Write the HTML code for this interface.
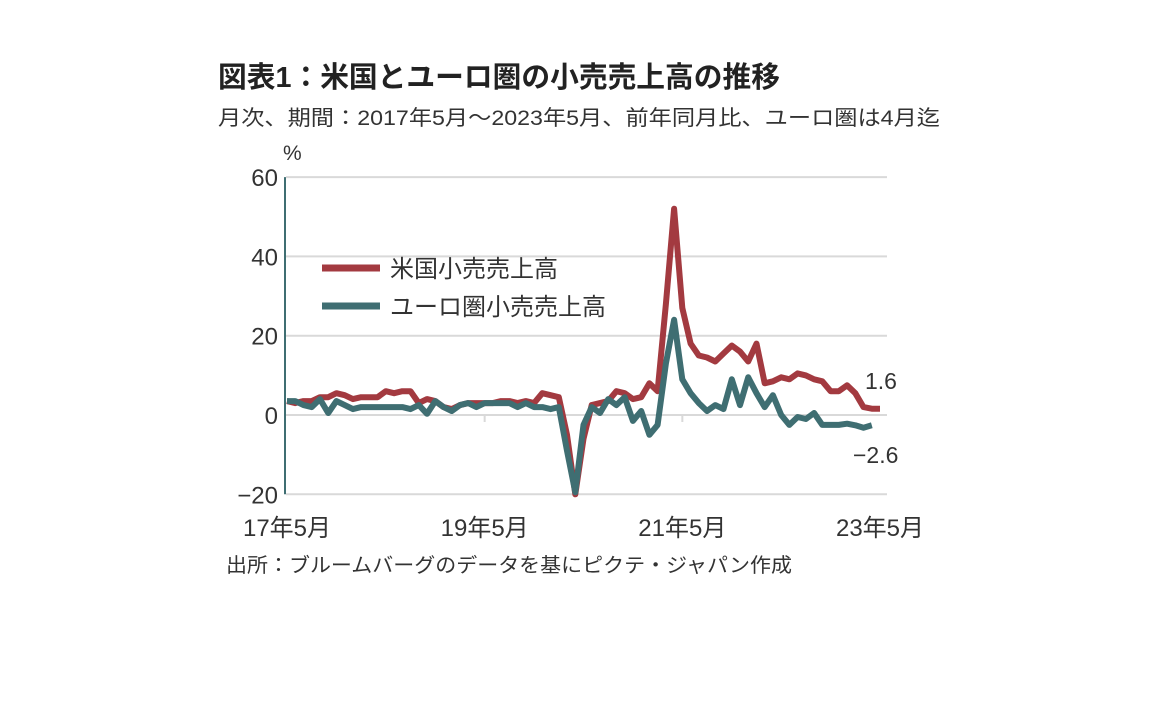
<!DOCTYPE html>
<html><head><meta charset="utf-8"><style>
html,body{margin:0;padding:0;background:#fff;}
svg{display:block;font-family:"Liberation Sans","Noto Sans CJK JP",sans-serif;}
</style></head><body>
<svg id="chart" width="1152" height="720" viewBox="0 0 1152 720">
<text x="218" y="87" font-size="29" font-weight="bold" fill="#222" textLength="562" lengthAdjust="spacingAndGlyphs">図表1：米国とユーロ圏の小売売上高の推移</text>
<text x="218" y="125" font-size="21" fill="#333" textLength="722" lengthAdjust="spacingAndGlyphs">月次、期間：2017年5月～2023年5月、前年同月比、ユーロ圏は4月迄</text>
<text x="283" y="160" font-size="21" fill="#333">%</text>
<g id="grid"></g>
<g id="series"></g>
<g id="legend">
<line x1="322" y1="268" x2="380" y2="268" stroke="#a33a40" stroke-width="7"/>
<text x="390" y="277" font-size="24" fill="#333">米国小売売上高</text>
<line x1="322" y1="306" x2="380" y2="306" stroke="#3f6e72" stroke-width="7"/>
<text x="390" y="315" font-size="24" fill="#333">ユーロ圏小売売上高</text>
</g>
<text x="865" y="389" font-size="23" fill="#333">1.6</text>
<text x="853" y="463" font-size="23" fill="#333">−2.6</text>
<text x="226" y="572" font-size="20" fill="#333" textLength="566" lengthAdjust="spacingAndGlyphs">出所：ブルームバーグのデータを基にピクテ・ジャパン作成</text>
</svg>
<script>
const yTicks = [60, 40, 20, 0, -20];
const xTickLabels = ["17年5月", "19年5月", "21年5月", "23年5月"];
const xTickIdx = [0, 24, 48, 72];
const usValues = [3.5,3,3.5,3.5,4.5,4.5,5.5,5,
 4,4.5,4.5,4.5,6,5.5,6,6,3,4,3.5,2,
 1.5,2.5,3,3,3,3,3.5,3.5,3,3.5,3,5.5,
 5,4.5,-5,-20,-6,2.5,3,3.5,6,5.5,4,4.5,
 8,6,28,52,27,18,15,14.5,13.5,15.5,17.5,16,
 13.5,18,8,8.5,9.5,9,10.5,10,9,8.5,6,6,
 7.5,5.5,2,1.6,1.6];
const euValues = [3.5,3.5,2.5,2,4,0.5,3.5,2.5,
 1.5,2,2,2,2,2,2,1.5,2.5,0.3,3.5,2,
 1,2.5,3,2,3,3,3,3,2,3,2,2,
 1.5,2,-9,-19.5,-2.5,2,0.5,4,2.5,4.5,-1.5,1,
 -5,-2.5,13,24,9,5.5,3,1,2.5,1.5,9,2.5,
 9.5,5.5,2,5,0,-2.5,-0.5,-1,0.5,-2.5,-2.5,-2.5,
 -2.2,-2.6,-3.2,-2.6];
const NS='http://www.w3.org/2000/svg';
const x0=287,x1=880,nM=72,yZero=415,yPer=79.3/20;
const xs=i=>x0+(x1-x0)*i/nM;
const ys=v=>yZero-v*yPer;
const grid=document.getElementById('grid');
yTicks.forEach(t=>{
 const l=document.createElementNS(NS,'line');
 l.setAttribute('x1',286);l.setAttribute('x2',887);l.setAttribute('y1',ys(t));l.setAttribute('y2',ys(t));
 l.setAttribute('stroke','#d9d9d9');l.setAttribute('stroke-width','2');
 
 
 grid.appendChild(l);
 const tx=document.createElementNS(NS,'text');
 tx.setAttribute('x',278);tx.setAttribute('y',ys(t)+9);tx.setAttribute('text-anchor','end');
 tx.setAttribute('font-size','24');tx.setAttribute('fill','#333');
 tx.textContent=t<0?'−'+Math.abs(t):String(t);
 
 
 grid.appendChild(tx);
});
const ax=document.createElementNS(NS,'line');
ax.setAttribute('x1',285);ax.setAttribute('x2',285);ax.setAttribute('y1',ys(60));ax.setAttribute('y2',ys(-20));
ax.setAttribute('stroke','#3f6e72');ax.setAttribute('stroke-width','2');


grid.appendChild(ax);
xTickIdx.forEach((m,k)=>{
 if(k>0&&k<3){const tk=document.createElementNS(NS,'line');
 tk.setAttribute('x1',xs(m));tk.setAttribute('x2',xs(m));tk.setAttribute('y1',yZero);tk.setAttribute('y2',yZero+7);
 tk.setAttribute('stroke','#d9d9d9');tk.setAttribute('stroke-width','2');
 
 
 grid.appendChild(tk);}
 const tx=document.createElementNS(NS,'text');
 tx.setAttribute('x',xs(m));tx.setAttribute('y',536);tx.setAttribute('text-anchor','middle');
 tx.setAttribute('font-size','24');tx.setAttribute('fill','#333');
 tx.textContent=xTickLabels[k];
 
 
 grid.appendChild(tx);
});
const ser=document.getElementById('series');
function line(vals,color,name){
 const p=document.createElementNS(NS,'polyline');
 p.setAttribute('points',vals.map((v,i)=>xs(i).toFixed(1)+','+ys(v).toFixed(1)).join(' '));
 p.setAttribute('fill','none');p.setAttribute('stroke',color);p.setAttribute('stroke-width','6');
 p.setAttribute('stroke-linejoin','round');
 
 
 ser.appendChild(p);
}
line(usValues,'#a33a40','us-retail-line');
line(euValues,'#3f6e72','eu-retail-line');
</script>
</body></html>
